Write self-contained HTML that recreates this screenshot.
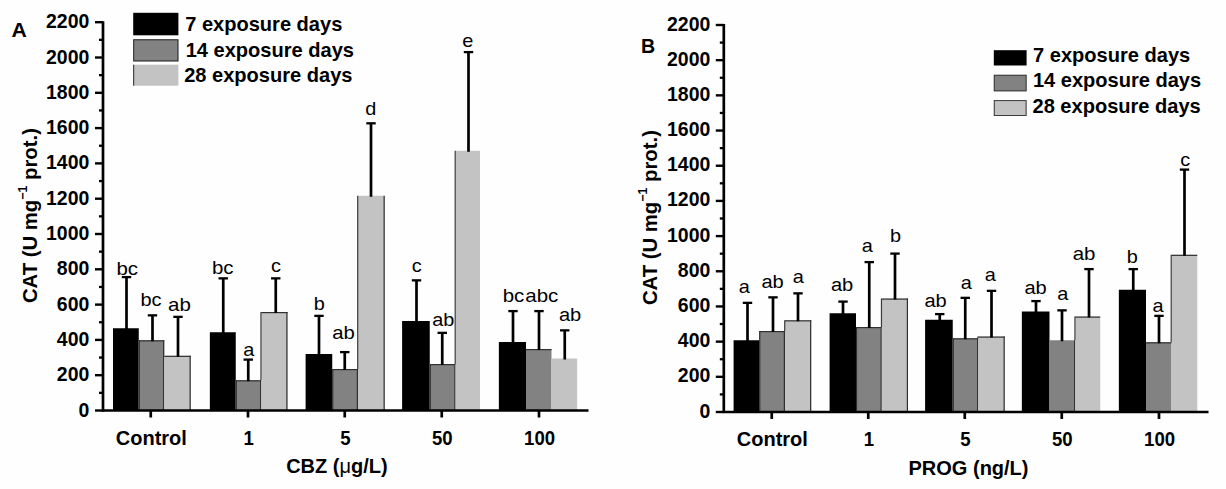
<!DOCTYPE html>
<html><head><meta charset="utf-8"><title>CAT activity</title>
<style>
html,body{margin:0;padding:0;background:#fefefe;}
body{width:1226px;height:489px;overflow:hidden;}
svg{display:block;font-family:"Liberation Sans",sans-serif;fill:#000;}
</style></head><body>
<svg width="1226" height="489" viewBox="0 0 1226 489">
<rect x="0" y="0" width="1226" height="489" fill="#fefefe"/>
<rect x="113.00" y="328.25" width="25.75" height="82.25" fill="#000000"/>
<line x1="126.50" y1="277.00" x2="126.50" y2="329.25" stroke="#000" stroke-width="2.7"/>
<line x1="121.80" y1="277.10" x2="131.20" y2="277.10" stroke="#000" stroke-width="2.3"/>
<rect x="138.75" y="340.25" width="25.50" height="70.25" fill="#828282"/>
<line x1="139.25" y1="340.25" x2="139.25" y2="410.50" stroke="#303030" stroke-width="1.2"/>
<line x1="163.65" y1="340.25" x2="163.65" y2="410.50" stroke="#303030" stroke-width="1.2"/>
<line x1="138.75" y1="340.85" x2="164.25" y2="340.85" stroke="#303030" stroke-width="1.2"/>
<line x1="152.50" y1="315.25" x2="152.50" y2="341.25" stroke="#000" stroke-width="2.7"/>
<line x1="147.80" y1="315.35" x2="157.20" y2="315.35" stroke="#000" stroke-width="2.3"/>
<rect x="164.25" y="355.75" width="26.50" height="54.75" fill="#c3c3c3"/>
<line x1="190.15" y1="355.75" x2="190.15" y2="410.50" stroke="#303030" stroke-width="1.2"/>
<line x1="164.25" y1="356.35" x2="190.75" y2="356.35" stroke="#303030" stroke-width="1.2"/>
<line x1="178.00" y1="316.75" x2="178.00" y2="356.75" stroke="#000" stroke-width="2.7"/>
<line x1="173.30" y1="316.85" x2="182.70" y2="316.85" stroke="#000" stroke-width="2.3"/>
<rect x="209.85" y="332.25" width="25.90" height="78.25" fill="#000000"/>
<line x1="223.25" y1="278.25" x2="223.25" y2="333.25" stroke="#000" stroke-width="2.7"/>
<line x1="218.55" y1="278.35" x2="227.95" y2="278.35" stroke="#000" stroke-width="2.3"/>
<rect x="235.75" y="380.25" width="25.50" height="30.25" fill="#828282"/>
<line x1="236.25" y1="380.25" x2="236.25" y2="410.50" stroke="#303030" stroke-width="1.2"/>
<line x1="260.65" y1="380.25" x2="260.65" y2="410.50" stroke="#303030" stroke-width="1.2"/>
<line x1="235.75" y1="380.85" x2="261.25" y2="380.85" stroke="#303030" stroke-width="1.2"/>
<line x1="248.25" y1="359.50" x2="248.25" y2="381.25" stroke="#000" stroke-width="2.7"/>
<line x1="243.55" y1="359.60" x2="252.95" y2="359.60" stroke="#000" stroke-width="2.3"/>
<rect x="261.25" y="312.00" width="26.25" height="98.50" fill="#c3c3c3"/>
<line x1="260.95" y1="312.00" x2="260.95" y2="380.25" stroke="#3a3a3a" stroke-width="1.2"/>
<line x1="286.90" y1="312.00" x2="286.90" y2="410.50" stroke="#303030" stroke-width="1.2"/>
<line x1="261.25" y1="312.60" x2="287.50" y2="312.60" stroke="#303030" stroke-width="1.2"/>
<line x1="275.75" y1="278.25" x2="275.75" y2="313.00" stroke="#000" stroke-width="2.7"/>
<line x1="271.05" y1="278.35" x2="280.45" y2="278.35" stroke="#000" stroke-width="2.3"/>
<rect x="305.60" y="354.00" width="26.65" height="56.50" fill="#000000"/>
<line x1="319.00" y1="315.75" x2="319.00" y2="355.00" stroke="#000" stroke-width="2.7"/>
<line x1="314.30" y1="315.85" x2="323.70" y2="315.85" stroke="#000" stroke-width="2.3"/>
<rect x="332.25" y="369.00" width="25.75" height="41.50" fill="#828282"/>
<line x1="332.75" y1="369.00" x2="332.75" y2="410.50" stroke="#303030" stroke-width="1.2"/>
<line x1="357.40" y1="369.00" x2="357.40" y2="410.50" stroke="#303030" stroke-width="1.2"/>
<line x1="332.25" y1="369.60" x2="358.00" y2="369.60" stroke="#303030" stroke-width="1.2"/>
<line x1="344.75" y1="352.00" x2="344.75" y2="370.00" stroke="#000" stroke-width="2.7"/>
<line x1="340.05" y1="352.10" x2="349.45" y2="352.10" stroke="#000" stroke-width="2.3"/>
<rect x="358.00" y="195.75" width="26.75" height="214.75" fill="#c3c3c3"/>
<line x1="357.70" y1="195.75" x2="357.70" y2="369.00" stroke="#3a3a3a" stroke-width="1.2"/>
<line x1="384.15" y1="195.75" x2="384.15" y2="410.50" stroke="#303030" stroke-width="1.2"/>
<line x1="371.00" y1="123.20" x2="371.00" y2="196.75" stroke="#000" stroke-width="2.7"/>
<line x1="366.30" y1="123.30" x2="375.70" y2="123.30" stroke="#000" stroke-width="2.3"/>
<rect x="402.10" y="321.00" width="27.65" height="89.50" fill="#000000"/>
<line x1="416.50" y1="280.25" x2="416.50" y2="322.00" stroke="#000" stroke-width="2.7"/>
<line x1="411.80" y1="280.35" x2="421.20" y2="280.35" stroke="#000" stroke-width="2.3"/>
<rect x="429.75" y="364.00" width="25.75" height="46.50" fill="#828282"/>
<line x1="430.25" y1="364.00" x2="430.25" y2="410.50" stroke="#303030" stroke-width="1.2"/>
<line x1="454.90" y1="364.00" x2="454.90" y2="410.50" stroke="#303030" stroke-width="1.2"/>
<line x1="429.75" y1="364.60" x2="455.50" y2="364.60" stroke="#303030" stroke-width="1.2"/>
<line x1="442.25" y1="332.75" x2="442.25" y2="365.00" stroke="#000" stroke-width="2.7"/>
<line x1="437.55" y1="332.85" x2="446.95" y2="332.85" stroke="#000" stroke-width="2.3"/>
<rect x="455.50" y="150.75" width="24.50" height="259.75" fill="#c3c3c3"/>
<line x1="455.20" y1="150.75" x2="455.20" y2="364.00" stroke="#3a3a3a" stroke-width="1.2"/>
<line x1="468.50" y1="52.00" x2="468.50" y2="151.75" stroke="#000" stroke-width="2.7"/>
<line x1="463.80" y1="52.10" x2="473.20" y2="52.10" stroke="#000" stroke-width="2.3"/>
<rect x="498.85" y="342.00" width="27.15" height="68.50" fill="#000000"/>
<line x1="513.00" y1="311.00" x2="513.00" y2="343.00" stroke="#000" stroke-width="2.7"/>
<line x1="508.30" y1="311.10" x2="517.70" y2="311.10" stroke="#000" stroke-width="2.3"/>
<rect x="526.00" y="349.00" width="25.50" height="61.50" fill="#828282"/>
<line x1="526.00" y1="349.60" x2="551.50" y2="349.60" stroke="#303030" stroke-width="1.2"/>
<line x1="539.00" y1="311.00" x2="539.00" y2="350.00" stroke="#000" stroke-width="2.7"/>
<line x1="534.30" y1="311.10" x2="543.70" y2="311.10" stroke="#000" stroke-width="2.3"/>
<rect x="551.20" y="358.50" width="25.90" height="52.00" fill="#c3c3c3"/>
<line x1="564.75" y1="330.25" x2="564.75" y2="359.50" stroke="#000" stroke-width="2.7"/>
<line x1="560.05" y1="330.35" x2="569.45" y2="330.35" stroke="#000" stroke-width="2.3"/>
<line x1="103.00" y1="21.20" x2="103.00" y2="411.50" stroke="#000" stroke-width="2.7"/>
<line x1="102.00" y1="410.50" x2="588.50" y2="410.50" stroke="#000" stroke-width="2.4"/>
<line x1="95.00" y1="410.50" x2="103.00" y2="410.50" stroke="#000" stroke-width="2.4"/>
<text transform="translate(89.30,416.50) scale(0.95,1)" font-size="20.5" font-weight="bold" text-anchor="end" >0</text>
<line x1="99.00" y1="392.85" x2="103.00" y2="392.85" stroke="#000" stroke-width="2.3"/>
<line x1="95.00" y1="375.20" x2="103.00" y2="375.20" stroke="#000" stroke-width="2.4"/>
<text transform="translate(89.30,381.20) scale(0.95,1)" font-size="20.5" font-weight="bold" text-anchor="end" >200</text>
<line x1="99.00" y1="357.55" x2="103.00" y2="357.55" stroke="#000" stroke-width="2.3"/>
<line x1="95.00" y1="339.90" x2="103.00" y2="339.90" stroke="#000" stroke-width="2.4"/>
<text transform="translate(89.30,345.90) scale(0.95,1)" font-size="20.5" font-weight="bold" text-anchor="end" >400</text>
<line x1="99.00" y1="322.25" x2="103.00" y2="322.25" stroke="#000" stroke-width="2.3"/>
<line x1="95.00" y1="304.60" x2="103.00" y2="304.60" stroke="#000" stroke-width="2.4"/>
<text transform="translate(89.30,310.60) scale(0.95,1)" font-size="20.5" font-weight="bold" text-anchor="end" >600</text>
<line x1="99.00" y1="286.95" x2="103.00" y2="286.95" stroke="#000" stroke-width="2.3"/>
<line x1="95.00" y1="269.30" x2="103.00" y2="269.30" stroke="#000" stroke-width="2.4"/>
<text transform="translate(89.30,275.30) scale(0.95,1)" font-size="20.5" font-weight="bold" text-anchor="end" >800</text>
<line x1="99.00" y1="251.65" x2="103.00" y2="251.65" stroke="#000" stroke-width="2.3"/>
<line x1="95.00" y1="234.00" x2="103.00" y2="234.00" stroke="#000" stroke-width="2.4"/>
<text transform="translate(89.30,240.00) scale(0.95,1)" font-size="20.5" font-weight="bold" text-anchor="end" >1000</text>
<line x1="99.00" y1="216.35" x2="103.00" y2="216.35" stroke="#000" stroke-width="2.3"/>
<line x1="95.00" y1="198.70" x2="103.00" y2="198.70" stroke="#000" stroke-width="2.4"/>
<text transform="translate(89.30,204.70) scale(0.95,1)" font-size="20.5" font-weight="bold" text-anchor="end" >1200</text>
<line x1="99.00" y1="181.05" x2="103.00" y2="181.05" stroke="#000" stroke-width="2.3"/>
<line x1="95.00" y1="163.40" x2="103.00" y2="163.40" stroke="#000" stroke-width="2.4"/>
<text transform="translate(89.30,169.40) scale(0.95,1)" font-size="20.5" font-weight="bold" text-anchor="end" >1400</text>
<line x1="99.00" y1="145.75" x2="103.00" y2="145.75" stroke="#000" stroke-width="2.3"/>
<line x1="95.00" y1="128.10" x2="103.00" y2="128.10" stroke="#000" stroke-width="2.4"/>
<text transform="translate(89.30,134.10) scale(0.95,1)" font-size="20.5" font-weight="bold" text-anchor="end" >1600</text>
<line x1="99.00" y1="110.45" x2="103.00" y2="110.45" stroke="#000" stroke-width="2.3"/>
<line x1="95.00" y1="92.80" x2="103.00" y2="92.80" stroke="#000" stroke-width="2.4"/>
<text transform="translate(89.30,98.80) scale(0.95,1)" font-size="20.5" font-weight="bold" text-anchor="end" >1800</text>
<line x1="99.00" y1="75.15" x2="103.00" y2="75.15" stroke="#000" stroke-width="2.3"/>
<line x1="95.00" y1="57.50" x2="103.00" y2="57.50" stroke="#000" stroke-width="2.4"/>
<text transform="translate(89.30,63.50) scale(0.95,1)" font-size="20.5" font-weight="bold" text-anchor="end" >2000</text>
<line x1="99.00" y1="39.85" x2="103.00" y2="39.85" stroke="#000" stroke-width="2.3"/>
<line x1="95.00" y1="22.20" x2="103.00" y2="22.20" stroke="#000" stroke-width="2.4"/>
<text transform="translate(89.30,28.20) scale(0.95,1)" font-size="20.5" font-weight="bold" text-anchor="end" >2200</text>
<line x1="150.75" y1="410.50" x2="150.75" y2="417.50" stroke="#000" stroke-width="2.7"/>
<text transform="translate(151.35,444.75) scale(1.0,1)" font-size="20" font-weight="bold" text-anchor="middle" >Control</text>
<line x1="248.00" y1="410.50" x2="248.00" y2="417.50" stroke="#000" stroke-width="2.7"/>
<text transform="translate(248.60,444.75) scale(0.93,1)" font-size="20" font-weight="bold" text-anchor="middle" >1</text>
<line x1="344.75" y1="410.50" x2="344.75" y2="417.50" stroke="#000" stroke-width="2.7"/>
<text transform="translate(345.35,444.75) scale(0.93,1)" font-size="20" font-weight="bold" text-anchor="middle" >5</text>
<line x1="441.75" y1="410.50" x2="441.75" y2="417.50" stroke="#000" stroke-width="2.7"/>
<text transform="translate(442.35,444.75) scale(0.93,1)" font-size="20" font-weight="bold" text-anchor="middle" >50</text>
<line x1="539.00" y1="410.50" x2="539.00" y2="417.50" stroke="#000" stroke-width="2.7"/>
<text transform="translate(539.60,444.75) scale(0.93,1)" font-size="20" font-weight="bold" text-anchor="middle" >100</text>
<text transform="translate(336.90,473.40) scale(1.0,1)" font-size="20" font-weight="bold" text-anchor="middle" >CBZ (<tspan font-weight="normal">μ</tspan>g/L)</text>
<text transform="translate(11.60,37.00) scale(1.06,1)" font-size="20" font-weight="bold" text-anchor="start" >A</text>
<text transform="translate(37.1,215.6) rotate(-90)" font-size="20.3" font-weight="bold" text-anchor="middle">CAT (U mg<tspan font-size="12.5" dy="-10.5">−1</tspan><tspan dy="10.5"> prot.)</tspan></text>
<text transform="translate(127.25,274.50) scale(1.1,1)" font-size="18.6" font-weight="normal" text-anchor="middle" >bc</text>
<text transform="translate(151.00,306.00) scale(1.074,1)" font-size="18.6" font-weight="normal" text-anchor="middle" >bc</text>
<text transform="translate(179.38,311.00) scale(1.1,1)" font-size="18.6" font-weight="normal" text-anchor="middle" >ab</text>
<text transform="translate(222.75,273.50) scale(1.1,1)" font-size="18.6" font-weight="normal" text-anchor="middle" >bc</text>
<text transform="translate(248.75,356.00) scale(1.07,1)" font-size="18.6" font-weight="normal" text-anchor="middle" >a</text>
<text transform="translate(275.88,271.50) scale(1.07,1)" font-size="18.6" font-weight="normal" text-anchor="middle" >c</text>
<text transform="translate(319.38,309.50) scale(1.07,1)" font-size="18.6" font-weight="normal" text-anchor="middle" >b</text>
<text transform="translate(343.50,338.50) scale(1.093,1)" font-size="18.6" font-weight="normal" text-anchor="middle" >ab</text>
<text transform="translate(370.70,114.80) scale(1.07,1)" font-size="18.6" font-weight="normal" text-anchor="middle" >d</text>
<text transform="translate(416.62,271.50) scale(1.07,1)" font-size="18.6" font-weight="normal" text-anchor="middle" >c</text>
<text transform="translate(443.25,326.00) scale(1.069,1)" font-size="18.6" font-weight="normal" text-anchor="middle" >ab</text>
<text transform="translate(467.75,46.75) scale(1.07,1)" font-size="18.6" font-weight="normal" text-anchor="middle" >e</text>
<text transform="translate(513.50,302.00) scale(1.1,1)" font-size="18.6" font-weight="normal" text-anchor="middle" >bc</text>
<text transform="translate(541.75,302.00) scale(1.1,1)" font-size="18.6" font-weight="normal" text-anchor="middle" >abc</text>
<text transform="translate(570.12,321.00) scale(1.081,1)" font-size="18.6" font-weight="normal" text-anchor="middle" >ab</text>
<rect x="133.20" y="12.80" width="45.20" height="22.50" fill="#000000"/>
<text transform="translate(185.20,31.40) scale(1.003,1)" font-size="20" font-weight="bold" text-anchor="start" >7 exposure days</text>
<rect x="133.20" y="39.30" width="45.20" height="22.10" fill="#828282"/>
<rect x="133.7" y="39.8" width="44.2" height="21.1" fill="none" stroke="#2a2a2a" stroke-width="1"/>
<text transform="translate(185.70,56.60) scale(1.003,1)" font-size="20" font-weight="bold" text-anchor="start" >14 exposure days</text>
<rect x="133.20" y="64.70" width="45.20" height="21.00" fill="#c3c3c3"/>
<text transform="translate(184.20,81.60) scale(1.003,1)" font-size="20" font-weight="bold" text-anchor="start" >28 exposure days</text>
<line x1="133.70" y1="64.70" x2="133.70" y2="85.70" stroke="#2a2a2a" stroke-width="1"/>
<rect x="733.60" y="340.25" width="25.65" height="71.75" fill="#000000"/>
<line x1="747.50" y1="302.75" x2="747.50" y2="341.25" stroke="#000" stroke-width="2.7"/>
<line x1="742.80" y1="302.85" x2="752.20" y2="302.85" stroke="#000" stroke-width="2.3"/>
<rect x="759.25" y="331.00" width="25.75" height="81.00" fill="#828282"/>
<line x1="759.75" y1="331.00" x2="759.75" y2="412.00" stroke="#303030" stroke-width="1.2"/>
<line x1="784.40" y1="331.00" x2="784.40" y2="412.00" stroke="#303030" stroke-width="1.2"/>
<line x1="759.25" y1="331.60" x2="785.00" y2="331.60" stroke="#303030" stroke-width="1.2"/>
<line x1="773.00" y1="297.25" x2="773.00" y2="332.00" stroke="#000" stroke-width="2.7"/>
<line x1="768.30" y1="297.35" x2="777.70" y2="297.35" stroke="#000" stroke-width="2.3"/>
<rect x="785.00" y="320.25" width="26.25" height="91.75" fill="#c3c3c3"/>
<line x1="784.70" y1="320.25" x2="784.70" y2="331.00" stroke="#3a3a3a" stroke-width="1.2"/>
<line x1="810.65" y1="320.25" x2="810.65" y2="412.00" stroke="#303030" stroke-width="1.2"/>
<line x1="785.00" y1="320.85" x2="811.25" y2="320.85" stroke="#303030" stroke-width="1.2"/>
<line x1="798.00" y1="293.25" x2="798.00" y2="321.25" stroke="#000" stroke-width="2.7"/>
<line x1="793.30" y1="293.35" x2="802.70" y2="293.35" stroke="#000" stroke-width="2.3"/>
<rect x="829.60" y="313.25" width="26.40" height="98.75" fill="#000000"/>
<line x1="843.00" y1="301.50" x2="843.00" y2="314.25" stroke="#000" stroke-width="2.7"/>
<line x1="838.30" y1="301.60" x2="847.70" y2="301.60" stroke="#000" stroke-width="2.3"/>
<rect x="856.00" y="327.00" width="25.75" height="85.00" fill="#828282"/>
<line x1="856.50" y1="327.00" x2="856.50" y2="412.00" stroke="#303030" stroke-width="1.2"/>
<line x1="881.15" y1="327.00" x2="881.15" y2="412.00" stroke="#303030" stroke-width="1.2"/>
<line x1="856.00" y1="327.60" x2="881.75" y2="327.60" stroke="#303030" stroke-width="1.2"/>
<line x1="869.25" y1="262.00" x2="869.25" y2="328.00" stroke="#000" stroke-width="2.7"/>
<line x1="864.55" y1="262.10" x2="873.95" y2="262.10" stroke="#000" stroke-width="2.3"/>
<rect x="881.75" y="298.50" width="26.25" height="113.50" fill="#c3c3c3"/>
<line x1="881.45" y1="298.50" x2="881.45" y2="327.00" stroke="#3a3a3a" stroke-width="1.2"/>
<line x1="907.40" y1="298.50" x2="907.40" y2="412.00" stroke="#303030" stroke-width="1.2"/>
<line x1="881.75" y1="299.10" x2="908.00" y2="299.10" stroke="#303030" stroke-width="1.2"/>
<line x1="895.00" y1="253.50" x2="895.00" y2="299.50" stroke="#000" stroke-width="2.7"/>
<line x1="890.30" y1="253.60" x2="899.70" y2="253.60" stroke="#000" stroke-width="2.3"/>
<rect x="925.10" y="319.75" width="27.65" height="92.25" fill="#000000"/>
<line x1="939.75" y1="314.00" x2="939.75" y2="320.75" stroke="#000" stroke-width="2.7"/>
<line x1="935.05" y1="314.10" x2="944.45" y2="314.10" stroke="#000" stroke-width="2.3"/>
<rect x="952.75" y="338.25" width="25.50" height="73.75" fill="#828282"/>
<line x1="953.25" y1="338.25" x2="953.25" y2="412.00" stroke="#303030" stroke-width="1.2"/>
<line x1="977.65" y1="338.25" x2="977.65" y2="412.00" stroke="#303030" stroke-width="1.2"/>
<line x1="952.75" y1="338.85" x2="978.25" y2="338.85" stroke="#303030" stroke-width="1.2"/>
<line x1="965.25" y1="297.75" x2="965.25" y2="339.25" stroke="#000" stroke-width="2.7"/>
<line x1="960.55" y1="297.85" x2="969.95" y2="297.85" stroke="#000" stroke-width="2.3"/>
<rect x="978.25" y="336.50" width="26.50" height="75.50" fill="#c3c3c3"/>
<line x1="977.95" y1="336.50" x2="977.95" y2="338.25" stroke="#3a3a3a" stroke-width="1.2"/>
<line x1="1004.15" y1="336.50" x2="1004.15" y2="412.00" stroke="#303030" stroke-width="1.2"/>
<line x1="978.25" y1="337.10" x2="1004.75" y2="337.10" stroke="#303030" stroke-width="1.2"/>
<line x1="991.50" y1="290.75" x2="991.50" y2="337.50" stroke="#000" stroke-width="2.7"/>
<line x1="986.80" y1="290.85" x2="996.20" y2="290.85" stroke="#000" stroke-width="2.3"/>
<rect x="1021.85" y="311.50" width="27.65" height="100.50" fill="#000000"/>
<line x1="1036.00" y1="301.00" x2="1036.00" y2="312.50" stroke="#000" stroke-width="2.7"/>
<line x1="1031.30" y1="301.10" x2="1040.70" y2="301.10" stroke="#000" stroke-width="2.3"/>
<rect x="1049.50" y="340.25" width="25.75" height="71.75" fill="#828282"/>
<line x1="1074.65" y1="340.25" x2="1074.65" y2="412.00" stroke="#303030" stroke-width="1.2"/>
<line x1="1062.00" y1="310.25" x2="1062.00" y2="341.25" stroke="#000" stroke-width="2.7"/>
<line x1="1057.30" y1="310.35" x2="1066.70" y2="310.35" stroke="#000" stroke-width="2.3"/>
<rect x="1075.25" y="316.50" width="25.00" height="95.50" fill="#c3c3c3"/>
<line x1="1074.95" y1="316.50" x2="1074.95" y2="340.25" stroke="#3a3a3a" stroke-width="1.2"/>
<line x1="1075.25" y1="317.10" x2="1100.25" y2="317.10" stroke="#303030" stroke-width="1.2"/>
<line x1="1089.00" y1="269.00" x2="1089.00" y2="317.50" stroke="#000" stroke-width="2.7"/>
<line x1="1084.30" y1="269.10" x2="1093.70" y2="269.10" stroke="#000" stroke-width="2.3"/>
<rect x="1118.85" y="289.75" width="27.15" height="122.25" fill="#000000"/>
<line x1="1133.25" y1="269.00" x2="1133.25" y2="290.75" stroke="#000" stroke-width="2.7"/>
<line x1="1128.55" y1="269.10" x2="1137.95" y2="269.10" stroke="#000" stroke-width="2.3"/>
<rect x="1146.00" y="342.25" width="25.50" height="69.75" fill="#828282"/>
<line x1="1146.00" y1="342.85" x2="1171.50" y2="342.85" stroke="#303030" stroke-width="1.2"/>
<line x1="1159.00" y1="315.75" x2="1159.00" y2="343.25" stroke="#000" stroke-width="2.7"/>
<line x1="1154.30" y1="315.85" x2="1163.70" y2="315.85" stroke="#000" stroke-width="2.3"/>
<rect x="1171.50" y="254.75" width="25.75" height="157.25" fill="#c3c3c3"/>
<line x1="1171.20" y1="254.75" x2="1171.20" y2="342.25" stroke="#3a3a3a" stroke-width="1.2"/>
<line x1="1171.50" y1="255.35" x2="1197.25" y2="255.35" stroke="#303030" stroke-width="1.2"/>
<line x1="1184.50" y1="169.50" x2="1184.50" y2="255.75" stroke="#000" stroke-width="2.7"/>
<line x1="1179.80" y1="169.60" x2="1189.20" y2="169.60" stroke="#000" stroke-width="2.3"/>
<line x1="723.80" y1="24.00" x2="723.80" y2="413.00" stroke="#000" stroke-width="2.7"/>
<line x1="722.80" y1="412.00" x2="1208.50" y2="412.00" stroke="#000" stroke-width="2.4"/>
<line x1="715.80" y1="412.00" x2="723.80" y2="412.00" stroke="#000" stroke-width="2.4"/>
<text transform="translate(710.30,417.50) scale(0.95,1)" font-size="20.5" font-weight="bold" text-anchor="end" >0</text>
<line x1="719.80" y1="394.41" x2="723.80" y2="394.41" stroke="#000" stroke-width="2.3"/>
<line x1="715.80" y1="376.82" x2="723.80" y2="376.82" stroke="#000" stroke-width="2.4"/>
<text transform="translate(710.30,382.32) scale(0.95,1)" font-size="20.5" font-weight="bold" text-anchor="end" >200</text>
<line x1="719.80" y1="359.23" x2="723.80" y2="359.23" stroke="#000" stroke-width="2.3"/>
<line x1="715.80" y1="341.64" x2="723.80" y2="341.64" stroke="#000" stroke-width="2.4"/>
<text transform="translate(710.30,347.14) scale(0.95,1)" font-size="20.5" font-weight="bold" text-anchor="end" >400</text>
<line x1="719.80" y1="324.04" x2="723.80" y2="324.04" stroke="#000" stroke-width="2.3"/>
<line x1="715.80" y1="306.45" x2="723.80" y2="306.45" stroke="#000" stroke-width="2.4"/>
<text transform="translate(710.30,311.95) scale(0.95,1)" font-size="20.5" font-weight="bold" text-anchor="end" >600</text>
<line x1="719.80" y1="288.86" x2="723.80" y2="288.86" stroke="#000" stroke-width="2.3"/>
<line x1="715.80" y1="271.27" x2="723.80" y2="271.27" stroke="#000" stroke-width="2.4"/>
<text transform="translate(710.30,276.77) scale(0.95,1)" font-size="20.5" font-weight="bold" text-anchor="end" >800</text>
<line x1="719.80" y1="253.68" x2="723.80" y2="253.68" stroke="#000" stroke-width="2.3"/>
<line x1="715.80" y1="236.09" x2="723.80" y2="236.09" stroke="#000" stroke-width="2.4"/>
<text transform="translate(710.30,241.59) scale(0.95,1)" font-size="20.5" font-weight="bold" text-anchor="end" >1000</text>
<line x1="719.80" y1="218.50" x2="723.80" y2="218.50" stroke="#000" stroke-width="2.3"/>
<line x1="715.80" y1="200.91" x2="723.80" y2="200.91" stroke="#000" stroke-width="2.4"/>
<text transform="translate(710.30,206.41) scale(0.95,1)" font-size="20.5" font-weight="bold" text-anchor="end" >1200</text>
<line x1="719.80" y1="183.32" x2="723.80" y2="183.32" stroke="#000" stroke-width="2.3"/>
<line x1="715.80" y1="165.73" x2="723.80" y2="165.73" stroke="#000" stroke-width="2.4"/>
<text transform="translate(710.30,171.23) scale(0.95,1)" font-size="20.5" font-weight="bold" text-anchor="end" >1400</text>
<line x1="719.80" y1="148.13" x2="723.80" y2="148.13" stroke="#000" stroke-width="2.3"/>
<line x1="715.80" y1="130.54" x2="723.80" y2="130.54" stroke="#000" stroke-width="2.4"/>
<text transform="translate(710.30,136.04) scale(0.95,1)" font-size="20.5" font-weight="bold" text-anchor="end" >1600</text>
<line x1="719.80" y1="112.95" x2="723.80" y2="112.95" stroke="#000" stroke-width="2.3"/>
<line x1="715.80" y1="95.36" x2="723.80" y2="95.36" stroke="#000" stroke-width="2.4"/>
<text transform="translate(710.30,100.86) scale(0.95,1)" font-size="20.5" font-weight="bold" text-anchor="end" >1800</text>
<line x1="719.80" y1="77.77" x2="723.80" y2="77.77" stroke="#000" stroke-width="2.3"/>
<line x1="715.80" y1="60.18" x2="723.80" y2="60.18" stroke="#000" stroke-width="2.4"/>
<text transform="translate(710.30,65.68) scale(0.95,1)" font-size="20.5" font-weight="bold" text-anchor="end" >2000</text>
<line x1="719.80" y1="42.59" x2="723.80" y2="42.59" stroke="#000" stroke-width="2.3"/>
<line x1="715.80" y1="25.00" x2="723.80" y2="25.00" stroke="#000" stroke-width="2.4"/>
<text transform="translate(710.30,30.50) scale(0.95,1)" font-size="20.5" font-weight="bold" text-anchor="end" >2200</text>
<line x1="771.75" y1="412.00" x2="771.75" y2="419.00" stroke="#000" stroke-width="2.7"/>
<text transform="translate(772.35,446.00) scale(1.0,1)" font-size="20" font-weight="bold" text-anchor="middle" >Control</text>
<line x1="868.25" y1="412.00" x2="868.25" y2="419.00" stroke="#000" stroke-width="2.7"/>
<text transform="translate(868.85,446.00) scale(0.93,1)" font-size="20" font-weight="bold" text-anchor="middle" >1</text>
<line x1="964.75" y1="412.00" x2="964.75" y2="419.00" stroke="#000" stroke-width="2.7"/>
<text transform="translate(965.35,446.00) scale(0.93,1)" font-size="20" font-weight="bold" text-anchor="middle" >5</text>
<line x1="1061.75" y1="412.00" x2="1061.75" y2="419.00" stroke="#000" stroke-width="2.7"/>
<text transform="translate(1062.35,446.00) scale(0.93,1)" font-size="20" font-weight="bold" text-anchor="middle" >50</text>
<line x1="1159.00" y1="412.00" x2="1159.00" y2="419.00" stroke="#000" stroke-width="2.7"/>
<text transform="translate(1159.60,446.00) scale(0.93,1)" font-size="20" font-weight="bold" text-anchor="middle" >100</text>
<text transform="translate(968.50,474.50) scale(1.0,1)" font-size="20" font-weight="bold" text-anchor="middle" >PROG (ng/L)</text>
<text transform="translate(640.90,53.20) scale(0.98,1)" font-size="20" font-weight="bold" text-anchor="start" >B</text>
<text transform="translate(657.4,217.6) rotate(-90)" font-size="20.3" font-weight="bold" text-anchor="middle">CAT (U mg<tspan font-size="12.5" dy="-10.5">−1</tspan><tspan dy="10.5"> prot.)</tspan></text>
<text transform="translate(744.25,292.75) scale(1.07,1)" font-size="18.6" font-weight="normal" text-anchor="middle" >a</text>
<text transform="translate(772.62,288.25) scale(1.081,1)" font-size="18.6" font-weight="normal" text-anchor="middle" >ab</text>
<text transform="translate(798.25,282.75) scale(1.07,1)" font-size="18.6" font-weight="normal" text-anchor="middle" >a</text>
<text transform="translate(842.12,290.75) scale(1.081,1)" font-size="18.6" font-weight="normal" text-anchor="middle" >ab</text>
<text transform="translate(867.38,251.50) scale(1.07,1)" font-size="18.6" font-weight="normal" text-anchor="middle" >a</text>
<text transform="translate(895.50,242.00) scale(1.07,1)" font-size="18.6" font-weight="normal" text-anchor="middle" >b</text>
<text transform="translate(935.62,306.50) scale(1.081,1)" font-size="18.6" font-weight="normal" text-anchor="middle" >ab</text>
<text transform="translate(966.25,288.50) scale(1.07,1)" font-size="18.6" font-weight="normal" text-anchor="middle" >a</text>
<text transform="translate(990.25,281.00) scale(1.07,1)" font-size="18.6" font-weight="normal" text-anchor="middle" >a</text>
<text transform="translate(1035.62,294.00) scale(1.081,1)" font-size="18.6" font-weight="normal" text-anchor="middle" >ab</text>
<text transform="translate(1062.75,299.50) scale(1.07,1)" font-size="18.6" font-weight="normal" text-anchor="middle" >a</text>
<text transform="translate(1084.12,260.25) scale(1.1,1)" font-size="18.6" font-weight="normal" text-anchor="middle" >ab</text>
<text transform="translate(1132.25,262.75) scale(1.07,1)" font-size="18.6" font-weight="normal" text-anchor="middle" >b</text>
<text transform="translate(1158.12,312.00) scale(1.07,1)" font-size="18.6" font-weight="normal" text-anchor="middle" >a</text>
<text transform="translate(1185.25,166.00) scale(1.07,1)" font-size="18.6" font-weight="normal" text-anchor="middle" >c</text>
<rect x="993.80" y="50.20" width="32.80" height="15.30" fill="#000000"/>
<text transform="translate(1033.10,61.90) scale(1.003,1)" font-size="20" font-weight="bold" text-anchor="start" >7 exposure days</text>
<rect x="993.80" y="74.80" width="32.80" height="16.50" fill="#828282"/>
<rect x="994.3" y="75.3" width="31.8" height="15.5" fill="none" stroke="#3a3a3a" stroke-width="1"/>
<text transform="translate(1032.90,87.20) scale(1.003,1)" font-size="20" font-weight="bold" text-anchor="start" >14 exposure days</text>
<rect x="993.80" y="100.10" width="32.80" height="15.90" fill="#c3c3c3"/>
<rect x="994.3" y="100.6" width="31.8" height="14.900000000000006" fill="none" stroke="#3a3a3a" stroke-width="1"/>
<text transform="translate(1032.50,112.60) scale(1.003,1)" font-size="20" font-weight="bold" text-anchor="start" >28 exposure days</text>
</svg>
</body></html>
